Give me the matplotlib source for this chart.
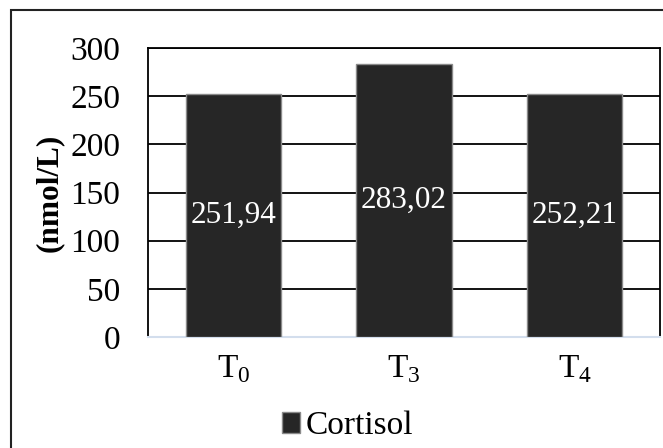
import matplotlib.pyplot as plt
from matplotlib.patches import Rectangle

plt.rcParams['font.family'] = 'Liberation Serif'
plt.rcParams['mathtext.fontset'] = 'custom'
plt.rcParams['mathtext.rm'] = 'Liberation Serif'

times = ['T$_\\mathregular{0}$', 'T$_\\mathregular{3}$', 'T$_\\mathregular{4}$']
cortisol = [251.94, 283.02, 252.21]
yticks = [0, 50, 100, 150, 200, 250, 300]

fig = plt.figure(figsize=(6.63, 4.48), dpi=100)
ax = fig.add_axes([148/663, 1 - 337/448, 512/663, 289/448])

x = range(len(times))
bars = ax.bar(x, cortisol, width=0.56, color='#262626', edgecolor='#8a8a8a',
              linewidth=1, zorder=3, label='Cortisol')
for xi, v in zip(x, cortisol):
    ax.text(xi, v / 2, f"{v:.2f}".replace('.', ','), color='white',
            ha='center', va='center', fontsize=22.5, zorder=4)

ax.set_xlim(-0.5, 2.5)
ax.set_ylim(0, 300)
ax.set_yticks(yticks)
ax.set_xticks(list(x))
ax.set_xticklabels(times)
ax.tick_params(axis='both', length=0, labelsize=24)
ax.tick_params(axis='y', pad=20)
ax.tick_params(axis='x', pad=12)
ax.yaxis.grid(True, color='black', lw=1.3, zorder=0)
ax.set_axisbelow(True)

for side in ['left', 'right', 'top']:
    ax.spines[side].set_color('black')
    ax.spines[side].set_linewidth(1.3)
ax.spines['bottom'].set_color('#d3deed')
ax.spines['bottom'].set_linewidth(1.5)

fig.text(49/663, 1 - 193/448, '(nmol/L)', rotation=90, ha='center', va='center',
         fontsize=22.5, fontweight='bold')

ax.legend(loc='center', bbox_to_anchor=(0.524, 0.049), bbox_transform=fig.transFigure,
          frameon=False, fontsize=24, handlelength=0.55, handleheight=0.55,
          handletextpad=0.15, borderpad=0)

# outer chart frame
fig.patches.append(Rectangle((11/663, -0.1), 1.0, 1 - 10/448 + 0.1,
                             transform=fig.transFigure, fill=False,
                             edgecolor='#222222', lw=1.5))

fig.savefig('out.png', dpi=100)
